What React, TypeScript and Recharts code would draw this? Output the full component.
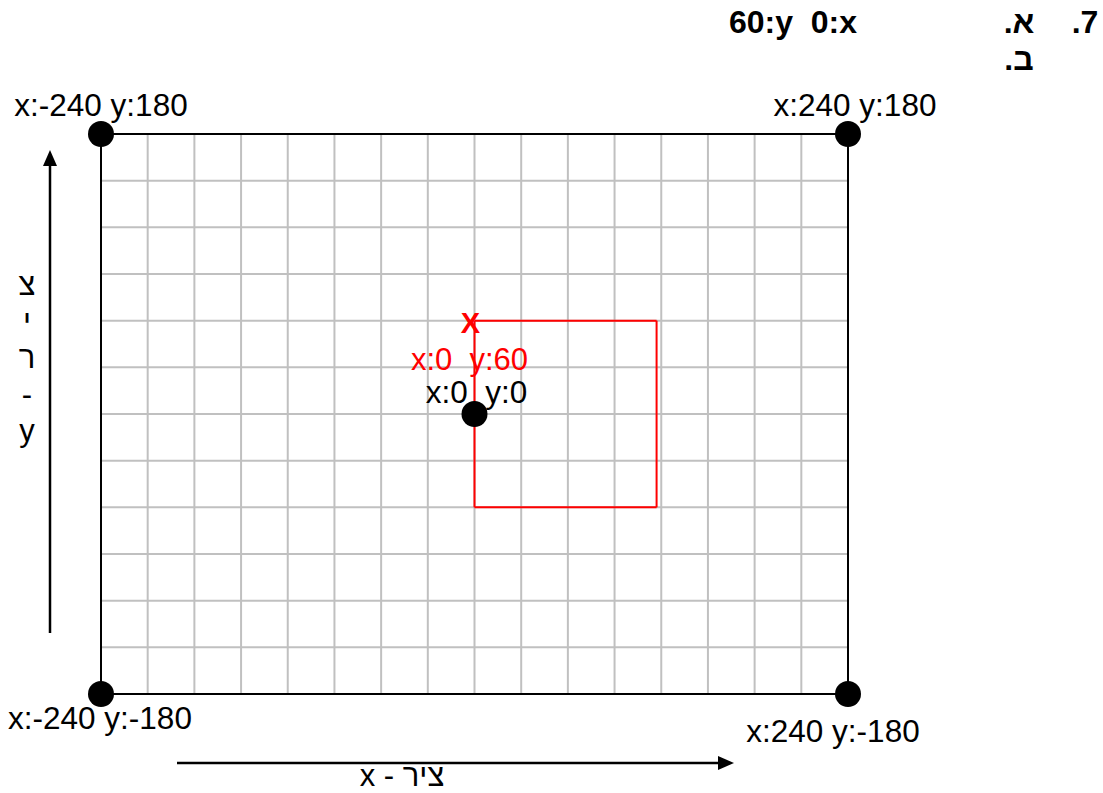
import { ScatterChart, Scatter, XAxis, YAxis, ReferenceLine } from 'recharts'

// grid every 30 units
const X_TICKS = [-240, -210, -180, -150, -120, -90, -60, -30, 0, 30, 60, 90, 120, 150, 180, 210, 240]
const Y_TICKS = [-180, -150, -120, -90, -60, -30, 0, 30, 60, 90, 120, 150, 180]

const cornerPoints = [
  { x: -240, y: 180, label: 'x:-240 y:180' },
  { x: 240, y: 180, label: 'x:240 y:180' },
  { x: -240, y: -180, label: 'x:-240 y:-180' },
  { x: 240, y: -180, label: 'x:240 y:-180' },
  { x: 0, y: 0, label: 'x:0  y:0' },
]

const targetPoint = [{ x: 0, y: 60, mark: 'X', label: 'x:0  y:60' }]

// red square corners, in order
const boxCorners = [
  { x: 0, y: 60 },
  { x: 117, y: 60 },
  { x: 117, y: -60 },
  { x: 0, y: -60 },
]

const titleLines = ['7.', 'א.', 'ב.']
const titleAnswer = '60:y  0:x'
const yAxisLabel = ['צ', 'י', 'ר', '-', 'y']
const xAxisLabel = 'ציר - x'

const FONT = '"Liberation Sans", Arial, sans-serif'

// label offsets from the dot, px
const labelOffset: Record<string, [number, number]> = {
  'x:-240 y:180': [0, -18],
  'x:240 y:180': [7, -18],
  'x:-240 y:-180': [-1, 35],
  'x:240 y:-180': [-15, 48],
  'x:0  y:0': [2, -11],
}

function DotShape(props: any) {
  const { cx, cy, payload } = props
  const [dx, dy] = labelOffset[payload.label] || [0, 0]
  return (
    <g>
      <circle cx={cx} cy={cy} r={13} fill="#000" />
      <text x={cx + dx} y={cy + dy} textAnchor="middle" fontSize={31.5} fill="#000"
        fontFamily={FONT} style={{ whiteSpace: 'pre' }}>{payload.label}</text>
    </g>
  )
}

function TargetShape(props: any) {
  const { cx, cy, payload } = props
  return (
    <g>
      <text x={cx - 4} y={cy + 12} textAnchor="middle" fontSize={29} fontWeight="bold"
        fill="#ff0000" fontFamily={FONT}>{payload.mark}</text>
      <text x={cx - 5} y={cy + 49} textAnchor="middle" fontSize={31} fill="#ff0000"
        fontFamily={FONT} style={{ whiteSpace: 'pre' }}>{payload.label}</text>
    </g>
  )
}

export default function App() {
  return (
    <div style={{ position: 'absolute', left: 0, top: 0, width: 1103, height: 793, background: '#fff' }}>
      <ScatterChart width={1103} height={793} margin={{ top: 134, right: 255, bottom: 99, left: 101 }}>
        <XAxis type="number" dataKey="x" domain={[-240, 240]} ticks={X_TICKS}
          axisLine={false} tickLine={false} tick={false} height={0} />
        <YAxis type="number" dataKey="y" domain={[-180, 180]} ticks={Y_TICKS}
          axisLine={false} tickLine={false} tick={false} width={0} />
        {X_TICKS.slice(1, -1).map(t => (
          <ReferenceLine key={'gx' + t} x={t} stroke="#c0c0c0" strokeWidth={2} />
        ))}
        {Y_TICKS.slice(1, -1).map(t => (
          <ReferenceLine key={'gy' + t} y={t} stroke="#c0c0c0" strokeWidth={2} />
        ))}
        {/* black frame on the outer ticks */}
        <ReferenceLine x={X_TICKS[0]} stroke="#000" strokeWidth={2} />
        <ReferenceLine x={X_TICKS[X_TICKS.length - 1]} stroke="#000" strokeWidth={2} />
        <ReferenceLine y={Y_TICKS[0]} stroke="#000" strokeWidth={2} />
        <ReferenceLine y={Y_TICKS[Y_TICKS.length - 1]} stroke="#000" strokeWidth={2} />
        {boxCorners.map((p, i) => (
          <ReferenceLine key={'box' + i} segment={[p, boxCorners[(i + 1) % boxCorners.length]]}
            stroke="#ff0000" strokeWidth={2} />
        ))}
        <Scatter data={cornerPoints} shape={DotShape} isAnimationActive={false} />
        <Scatter data={targetPoint} shape={TargetShape} isAnimationActive={false} />
      </ScatterChart>

      <svg width={1103} height={793} style={{ position: 'absolute', left: 0, top: 0, pointerEvents: 'none' }}>
        {/* title */}
        <text x={1085} y={33} textAnchor="middle" direction="rtl" fontSize={32} fontWeight="bold" fontFamily={FONT}>{titleLines[0]}</text>
        <text x={1019} y={33} textAnchor="middle" direction="rtl" fontSize={32} fontWeight="bold" fontFamily={FONT}>{titleLines[1]}</text>
        <text x={1019} y={70} textAnchor="middle" direction="rtl" fontSize={32} fontWeight="bold" fontFamily={FONT}>{titleLines[2]}</text>
        <text x={793} y={33} textAnchor="middle" fontSize={32} fontWeight="bold" fontFamily={FONT} style={{ whiteSpace: 'pre' }}>{titleAnswer}</text>

        {/* y arrow */}
        <line x1={50} y1={633} x2={50} y2={162} stroke="#000" strokeWidth={2.5} />
        <polygon points="50,150 43,166 57,166" fill="#000" />
        {yAxisLabel.map((c, i) => (
          <text key={i} x={27} y={295 + i * 36.5} textAnchor="middle" fontSize={31} fontFamily={FONT}>{c}</text>
        ))}

        {/* x arrow */}
        <line x1={177} y1={763} x2={722} y2={763} stroke="#000" strokeWidth={2.5} />
        <polygon points="734,763 718,756 718,770" fill="#000" />
        <text x={402} y={786} textAnchor="middle" direction="rtl" fontSize={31} fontFamily={FONT}>{xAxisLabel}</text>
      </svg>
    </div>
  )
}
